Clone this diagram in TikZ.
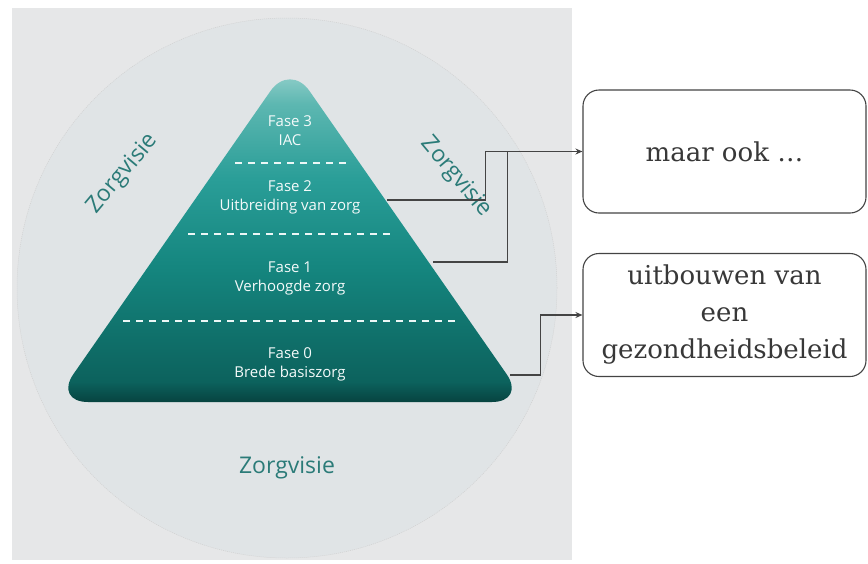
\documentclass[tikz,border=0pt]{standalone}
\usepackage{fontspec}
\setmainfont{DejaVu Serif}
\newfontfamily\opensans{Open Sans}
\usetikzlibrary{arrows.meta}
\definecolor{panelgray}{HTML}{E6E7E8}
\definecolor{circgray}{HTML}{E0E4E6}
\definecolor{tealtop}{HTML}{A2D6D2}
\definecolor{tealA}{HTML}{5DB7B1}
\definecolor{tealB}{HTML}{2A9E98}
\definecolor{tealC}{HTML}{15867F}
\definecolor{tealD}{HTML}{0C625D}
\definecolor{tealbot}{HTML}{074340}
\definecolor{visieteal}{HTML}{2B7B78}
\definecolor{linegray}{HTML}{444444}
\pgfdeclareverticalshading{pyramidshade}{100bp}{color(0bp)=(tealbot); color(25bp)=(tealbot); color(28bp)=(tealD); color(45bp)=(tealC); color(58bp)=(tealB); color(69bp)=(tealA); color(75bp)=(tealtop); color(100bp)=(tealtop)}
\tikzset{
  fase/.style={font=\opensans\fontsize{15}{19}\selectfont, text=white!88!tealtop, align=center},
  visie/.style={font=\opensans\fontsize{23}{27}\selectfont, text=visieteal},
  sidebox/.style={draw=linegray, line width=1.1pt, rounded corners=16pt, fill=white, minimum width=283pt, minimum height=123pt, align=center, text=black!78, font=\fontsize{26}{37}\selectfont},
  divider/.style={draw=white!80!tealtop, line width=1.6pt, dash pattern=on 7pt off 6pt},
  conn/.style={draw=linegray, line width=1.2pt},
}
\begin{document}
\begin{tikzpicture}[x=1pt, y=-1pt, >={Stealth[length=7pt,width=6pt]}]
         \useasboundingbox (0,0) rectangle (868,563);
         % background
         \fill[panelgray] (12,8) rectangle (572,560);
         \draw[fill=circgray, draw=black!18, line width=0.5pt, dash pattern=on 1pt off 1pt] (287,288) circle (270pt);
         \shade[shading=pyramidshade, rounded corners=34pt] (290,63) -- (526,402) -- (54,402) -- cycle;
         \draw[divider] (235,163) -- (348,163);
         \draw[divider] (188,234) -- (395,234);
         \draw[divider] (123,321) -- (457,321);
         %nodes
         \node[fase] at (290,131) (fase3) {Fase 3\\IAC};
         \node[fase] at (290,197) (fase2) {Fase 2\\Uitbreiding van zorg};
         \node[fase] at (290,278) (fase1) {Fase 1\\Verhoogde zorg};
         \node[fase] at (290,364) (fase0) {Fase 0\\Brede basiszorg};
         \node[visie, rotate=50] at (123,174) (visieL) {Zorgvisie};
         \node[visie, rotate=-50] at (456,177) (visieR) {Zorgvisie};
         \node[visie] at (287,468) (visieB) {Zorgvisie};
         \node[sidebox] at (724.5,151.5) (ook) {maar ook …};
         \node[sidebox] at (724.5,315) (beleid) {uitbouwen van\\een\\gezondheidsbeleid};
         \coordinate (c2) at (387,200);
         \coordinate (c1) at (433,262);
         \coordinate (c0) at (510,375);
         % arrows between nodes
         \draw[conn] (c1) -| ([xshift=-75pt]ook.west);
         \draw[conn, ->] (c2) -| ([xshift=-97pt]ook.west) -- (ook.west);
         \draw[conn, ->] (c0) -| ([xshift=-42pt]beleid.west) -- (beleid.west);
        \end{tikzpicture}
\end{document}
